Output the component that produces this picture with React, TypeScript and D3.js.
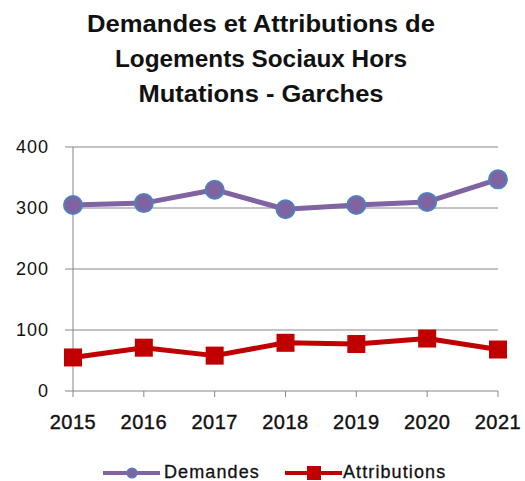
import React from "react";
import * as d3 from "d3";

const years = ["2015", "2016", "2017", "2018", "2019", "2020", "2021"];
const demandes = [305, 308, 330, 298, 305, 310, 347];
const attributions = [55, 71, 58, 79, 77, 86, 68];
const yTicks = [0, 100, 200, 300, 400];
const titleLines = ["Demandes et Attributions de", "Logements Sociaux Hors", "Mutations - Garches"];
const titleWidths = [348, 292, 245];

export default function App() {
  const W = 525, H = 481;
  const left = 73, right = 498, top = 147, bottom = 391;
  const x = d3.scalePoint<string>().domain(years).range([left, right]);
  const y = d3.scaleLinear().domain([0, 400]).range([bottom, top]);
  const line = d3.line<number>().x((_, i) => x(years[i])!).y((d) => y(d));
  const font = "'Liberation Sans', Arial, sans-serif";
  const axisColor = "#868686";
  const purple = "#8064A2";
  const blue = "#4F81BD";
  const red = "#C00000";
  return (
    <svg width={W} height={H} style={{ position: "absolute", left: 0, top: 0 }} fontFamily={font}>
      <rect width={W} height={H} fill="#fff" />
      {titleLines.map((t, i) => (
        <text key={i} x={261} y={32 + i * 35} textAnchor="middle" fontSize={23.5} fontWeight="bold" fill="#111"
          textLength={titleWidths[i]} lengthAdjust="spacingAndGlyphs">
          {t}
        </text>
      ))}
      {yTicks.map((t) => (
        <g key={t}>
          <line x1={65} x2={right} y1={y(t)} y2={y(t)} stroke={axisColor} strokeWidth={1} />
          <text x={49} y={y(t) + 6} textAnchor="end" fontSize={18} fill="#111" letterSpacing={1}>{t}</text>
        </g>
      ))}
      <line x1={left} x2={left} y1={top} y2={bottom} stroke={axisColor} strokeWidth={1} />
      {years.map((yr) => (
        <g key={yr}>
          <line x1={x(yr)} x2={x(yr)} y1={bottom} y2={bottom + 6} stroke={axisColor} strokeWidth={1} />
          <text x={x(yr)} y={429} textAnchor="middle" fontSize={20} fill="#111" stroke="#111" strokeWidth={0.4}
            letterSpacing={0.5}>{yr}</text>
        </g>
      ))}
      <path d={line(demandes)!} fill="none" stroke={purple} strokeWidth={5} strokeLinejoin="round" />
      {demandes.map((v, i) => (
        <circle key={i} cx={x(years[i])} cy={y(v)} r={9} fill={purple} stroke={blue} strokeWidth={2} />
      ))}
      <path d={line(attributions)!} fill="none" stroke={red} strokeWidth={5} strokeLinejoin="round" />
      {attributions.map((v, i) => (
        <rect key={i} x={x(years[i])! - 9} y={y(v) - 9} width={18} height={18} fill={red} />
      ))}
      <g>
        <line x1={103} x2={160} y1={473} y2={473} stroke={purple} strokeWidth={4} />
        <circle cx={132} cy={473} r={5} fill={purple} stroke={blue} strokeWidth={1.2} />
        <text x={164} y={478} fontSize={18} fill="#111" stroke="#111" strokeWidth={0.3} letterSpacing={1.1}>Demandes</text>
        <line x1={285} x2={342} y1={473} y2={473} stroke={red} strokeWidth={4} />
        <rect x={307} y={466} width={14} height={14} fill={red} />
        <text x={343} y={478} fontSize={18} fill="#111" stroke="#111" strokeWidth={0.3} letterSpacing={1.1}>Attributions</text>
      </g>
    </svg>
  );
}
